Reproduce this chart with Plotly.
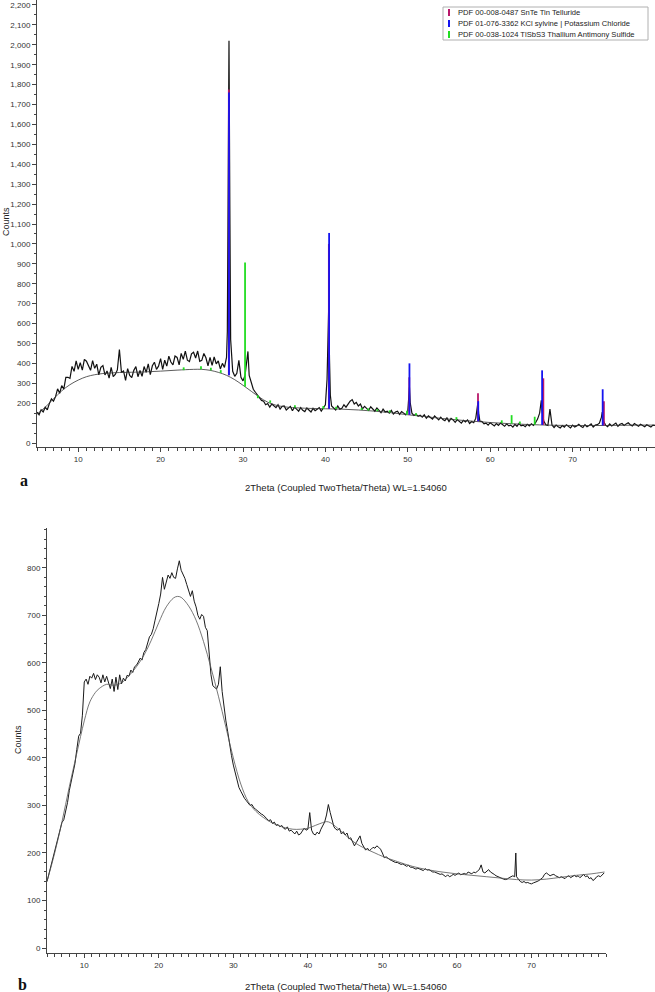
import plotly.graph_objects as go

# -------------------------
# (a) measured pattern
# -------------------------
a_two_theta = [
    5.0, 5.25, 5.5, 5.75, 6.0, 6.25, 6.5, 6.75, 7.0, 7.25, 7.5, 7.75,
    8.0, 8.25, 8.5, 8.75, 9.0, 9.25, 9.5, 9.75, 10.0, 10.25, 10.5, 10.75,
    11.0, 11.25, 11.5, 11.75, 12.0, 12.25, 12.5, 12.75, 13.0, 13.25, 13.5, 13.75,
    14.0, 14.25, 14.5, 14.75, 15.0, 15.25, 15.5, 15.75, 16.0, 16.25, 16.5, 16.75,
    17.0, 17.25, 17.5, 17.75, 18.0, 18.25, 18.5, 18.75, 19.0, 19.25, 19.5, 19.75,
    20.0, 20.25, 20.5, 20.75, 21.0, 21.25, 21.5, 21.75, 22.0, 22.25, 22.5, 22.75,
    23.0, 23.25, 23.5, 23.75, 24.0, 24.25, 24.5, 24.75, 25.0, 25.25, 25.5, 25.75,
    26.0, 26.25, 26.5, 26.75, 27.0, 27.25, 27.5, 27.75,
    28.0, 28.1, 28.2, 28.3, 28.4, 28.5, 28.75,
    29.0, 29.25, 29.5, 29.75, 30.0, 30.25, 30.5, 30.6, 30.75,
    31.0, 31.25, 31.5, 31.75, 32.0, 32.25, 32.5, 32.75, 33.0, 33.25, 33.5, 33.75,
    34.0, 34.25, 34.5, 34.75, 35.0, 35.25, 35.5, 35.75, 36.0, 36.25, 36.5, 36.75,
    37.0, 37.25, 37.5, 37.75, 38.0, 38.25, 38.5, 38.75, 39.0, 39.25, 39.5, 39.75,
    40.0, 40.2, 40.3, 40.4, 40.5, 40.6, 40.75,
    41.0, 41.25, 41.5, 41.75, 42.0, 42.25, 42.5, 42.75, 43.0, 43.25, 43.5, 43.75,
    44.0, 44.25, 44.5, 44.75, 45.0, 45.25, 45.5, 45.75, 46.0, 46.25, 46.5, 46.75,
    47.0, 47.25, 47.5, 47.75, 48.0, 48.25, 48.5, 48.75, 49.0, 49.25, 49.5, 49.75,
    50.0, 50.1, 50.2, 50.3, 50.5, 50.75,
    51.0, 51.25, 51.5, 51.75, 52.0, 52.25, 52.5, 52.75, 53.0, 53.25, 53.5, 53.75,
    54.0, 54.25, 54.5, 54.75, 55.0, 55.25, 55.5, 55.75, 56.0, 56.25, 56.5, 56.75,
    57.0, 57.25, 57.5, 57.75, 58.0, 58.25, 58.4, 58.5, 58.6, 58.75,
    59.0, 59.25, 59.5, 59.75, 60.0, 60.25, 60.5, 60.75, 61.0, 61.25, 61.5, 61.75,
    62.0, 62.25, 62.5, 62.75, 63.0, 63.25, 63.5, 63.75, 64.0, 64.25, 64.5, 64.75,
    65.0, 65.25, 65.5, 65.75, 66.0, 66.1, 66.2, 66.3, 66.5, 66.75,
    67.0, 67.25, 67.5, 67.75, 68.0, 68.25, 68.5, 68.75, 69.0, 69.25, 69.5, 69.75,
    70.0, 70.25, 70.5, 70.75, 71.0, 71.25, 71.5, 71.75, 72.0, 72.25, 72.5, 72.75,
    73.0, 73.25, 73.5, 73.6, 73.75,
    74.0, 74.25, 74.5, 74.75, 75.0, 75.25, 75.5, 75.75, 76.0, 76.25, 76.5, 76.75,
    77.0, 77.25, 77.5, 77.75, 78.0, 78.25, 78.5, 78.75, 79.0, 79.25, 79.5, 79.75, 80.0,
]
a_counts = [
    155, 142, 167, 156, 180, 167, 198, 222, 210, 233, 272, 250,
    288, 271, 330, 330, 325, 385, 360, 412, 370, 403, 366, 420,
    411, 383, 365, 414, 375, 396, 342, 380, 389, 342, 362, 326,
    380, 333, 344, 367, 470, 354, 362, 315, 374, 339, 328, 365,
    384, 333, 364, 335, 384, 355, 398, 344, 388, 406, 370, 386,
    424, 370, 416, 386, 436, 407, 392, 437, 430, 393, 450, 420,
    462, 416, 409, 448, 456, 427, 462, 410, 415, 450, 428, 388,
    430, 390, 432, 398, 412, 372, 400, 380,
    430, 560, 1100, 2020, 1200, 520, 360,
    335, 350, 415, 330, 312, 340, 420, 460, 340,
    300, 270, 255, 240, 228, 214, 210, 192, 198, 180, 196, 188,
    178, 192, 170, 184, 186, 166, 176, 184, 162, 180, 170, 160,
    178, 164, 158, 176, 166, 156, 174, 162, 170, 178, 160, 176,
    192, 320, 480, 680, 420, 240, 186,
    178, 166, 186, 170, 174, 192, 180, 198, 210, 218, 196, 204,
    186, 196, 172, 184, 176, 164, 182, 170, 160, 176, 164, 152,
    170, 156, 160, 150, 164, 146, 156, 160, 144, 158, 150, 142,
    160, 210, 280, 200, 150, 138,
    146, 134, 140, 130, 142, 124, 136, 128, 120, 136, 128, 116,
    130, 118, 112, 126, 108, 124, 116, 104, 118, 110, 100, 114,
    106, 116, 98, 108, 102, 125, 170, 200, 150, 110,
    108, 96, 100, 90, 102, 94, 86, 98, 88, 100, 92, 84,
    96, 86, 90, 80, 94, 84, 98, 86, 90, 82, 94, 86,
    96, 88, 102, 120, 150, 190, 215, 160, 110, 92,
    88, 170, 90, 78, 90, 82, 76, 88, 80, 92, 84, 76,
    90, 80, 86, 94, 84, 78, 92, 82, 88, 96, 80, 90,
    92, 100, 130, 155, 110,
    90, 82, 96, 86, 92, 100, 84, 94, 98, 88, 96, 102,
    92, 86, 98, 90, 84, 94, 88, 82, 92, 86, 80, 90, 88,
]

# (a) fitted background
a_bg_theta = [5, 6, 7, 8, 9, 10, 11, 12, 13, 14, 15, 16, 18, 20, 22, 24, 25, 26, 27, 28,
              29, 30, 31, 32, 33, 34, 35, 36, 38, 40, 42, 44, 46, 48, 50, 52, 54, 56, 58,
              60, 62, 64, 66, 68, 70, 72, 74, 76, 78, 80]
a_bg_counts = [145, 180, 222, 262, 293, 316, 333, 343, 349, 352, 354, 355, 357, 361, 366, 370, 370, 365, 355, 340,
               318, 290, 260, 230, 205, 190, 182, 178, 174, 172, 170, 166, 160, 152, 142, 133, 124, 116, 109,
               103, 98, 94, 91, 89, 88, 88, 88, 89, 90, 90]

# reference sticks: position, base, top
snte_pos = [28.28, 40.42, 50.18, 58.52, 66.45, 73.80]
snte_base = [340, 172, 142, 109, 91, 88]
snte_top = [1775, 1000, 330, 250, 325, 210]

kcl_pos = [28.30, 40.45, 50.20, 58.55, 66.30, 73.65]
kcl_base = [340, 172, 142, 109, 91, 88]
kcl_top = [1760, 1055, 400, 210, 365, 270]

tlsbs3_pos = [22.8, 24.9, 26.1, 27.3, 30.25, 31.8, 33.3, 36.3, 39.75, 41.3, 44.4, 45.2, 46.3,
              47.8, 49.9, 51.0, 55.9, 61.4, 62.6, 63.6, 65.4]
tlsbs3_base = [366, 370, 365, 352, 283, 225, 202, 178, 172, 171, 166, 163, 160,
               153, 142, 138, 117, 100, 97, 96, 92]
tlsbs3_top = [380, 385, 378, 366, 907, 240, 214, 190, 186, 182, 176, 174, 170,
              164, 162, 150, 130, 114, 140, 108, 132]

# -------------------------
# (b) measured pattern
# -------------------------
b_two_theta = [
    5.0, 5.25, 5.5, 5.75, 6.0, 6.25, 6.5, 6.75, 7.0, 7.25, 7.5, 7.75,
    8.0, 8.25, 8.5, 8.75, 9.0, 9.25, 9.5, 9.75, 10.0, 10.25, 10.5, 10.75,
    11.0, 11.25, 11.5, 11.75, 12.0, 12.25, 12.5, 12.75, 13.0, 13.25, 13.5, 13.75,
    14.0, 14.25, 14.5, 14.75, 15.0, 15.25, 15.5, 15.75, 16.0, 16.25, 16.5, 16.75,
    17.0, 17.25, 17.5, 17.75, 18.0, 18.25, 18.5, 18.75, 19.0, 19.25, 19.5, 19.75,
    20.0, 20.25, 20.5, 20.75, 21.0, 21.25, 21.5, 21.75, 22.0, 22.25, 22.5, 22.75,
    23.0, 23.25, 23.5, 23.75, 24.0, 24.25, 24.5, 24.75, 25.0, 25.25, 25.5, 25.75,
    26.0, 26.25, 26.5, 26.75, 27.0, 27.25, 27.5, 27.75, 28.0, 28.25, 28.5, 28.75,
    29.0, 29.25, 29.5, 29.75, 30.0, 30.25, 30.5, 30.75, 31.0, 31.25, 31.5, 31.75,
    32.0, 32.25, 32.5, 32.75, 33.0, 33.25, 33.5, 33.75, 34.0, 34.25, 34.5, 34.75,
    35.0, 35.25, 35.5, 35.75, 36.0, 36.25, 36.5, 36.75, 37.0, 37.25, 37.5, 37.75,
    38.0, 38.25, 38.5, 38.75, 39.0, 39.25, 39.5, 39.75, 40.0, 40.25, 40.5, 40.75,
    41.0, 41.25, 41.5, 41.75, 42.0, 42.25, 42.5, 42.75, 43.0, 43.25, 43.5, 43.75,
    44.0, 44.25, 44.5, 44.75, 45.0, 45.25, 45.5, 45.75, 46.0, 46.25, 46.5, 46.75,
    47.0, 47.25, 47.5, 47.75, 48.0, 48.25, 48.5, 48.75, 49.0, 49.25, 49.5, 49.75,
    50.0, 50.25, 50.5, 50.75, 51.0, 51.25, 51.5, 51.75, 52.0, 52.25, 52.5, 52.75,
    53.0, 53.25, 53.5, 53.75, 54.0, 54.25, 54.5, 54.75, 55.0, 55.25, 55.5, 55.75,
    56.0, 56.25, 56.5, 56.75, 57.0, 57.25, 57.5, 57.75, 58.0, 58.25, 58.5, 58.75,
    59.0, 59.25, 59.5, 59.75, 60.0, 60.25, 60.5, 60.75, 61.0, 61.25, 61.5, 61.75,
    62.0, 62.25, 62.5, 62.75, 63.0, 63.25, 63.5, 63.75, 64.0, 64.25, 64.5, 64.75,
    65.0, 65.25, 65.5, 65.75, 66.0, 66.25, 66.5, 66.75, 67.0, 67.25, 67.5, 67.75,
    67.9, 68.0, 68.25, 68.5, 68.75, 69.0, 69.25, 69.5, 69.75,
    70.0, 70.25, 70.5, 70.75, 71.0, 71.25, 71.5, 71.75, 72.0, 72.25, 72.5, 72.75,
    73.0, 73.25, 73.5, 73.75, 74.0, 74.25, 74.5, 74.75, 75.0, 75.25, 75.5, 75.75,
    76.0, 76.25, 76.5, 76.75, 77.0, 77.25, 77.5, 77.75, 78.0, 78.25, 78.5, 78.75,
    79.0, 79.25, 79.5, 79.75,
]
b_counts = [
    140, 156, 170, 186, 204, 218, 234, 248, 264, 270, 285, 306,
    332, 350, 368, 388, 418, 446, 452, 490, 560, 566, 555, 572,
    568, 578, 565, 575, 570, 558, 575, 560, 572, 556, 546, 566,
    540, 570, 544, 575, 556, 568, 562, 574, 572, 585, 580, 592,
    595, 602, 610, 606, 622, 628, 642, 655, 660, 672, 690, 705,
    725, 745, 780, 755, 772, 785, 778, 790, 780, 778, 798, 815,
    795, 788, 778, 765, 752, 740, 752, 730, 718, 700, 692, 702,
    698, 675, 668, 620, 575, 552, 548, 545, 555, 592, 540, 505,
    478, 455, 425, 405, 385, 368, 352, 338, 330, 322, 315, 310,
    306, 300, 302, 295, 292, 288, 284, 282, 280, 275, 272, 268,
    270, 262, 265, 258, 260, 255, 258, 252, 250, 255, 246, 248,
    244, 240, 246, 238, 240, 245, 252, 248, 250, 285, 248, 240,
    238, 244, 240, 250, 258, 265, 280, 302, 285, 268, 255, 250,
    248, 252, 240, 245, 238, 242, 230, 232, 225, 215, 222, 230,
    236, 220, 212, 206, 210, 205, 208, 212, 210, 215, 212, 208,
    200, 190, 192, 188, 186, 184, 182, 180, 180, 178, 176, 177,
    175, 172, 174, 170, 170, 168, 166, 168, 166, 165, 163, 167,
    164, 165, 162, 160, 160, 158, 157, 155, 156, 152, 150, 154,
    150, 152, 155, 153, 156, 158, 154, 156, 157, 155, 160, 158,
    156, 160, 158, 162, 165, 175, 160, 158, 162, 165, 160, 158,
    155, 152, 150, 148, 146, 145, 144, 145, 148, 150, 152, 150,
    200, 150, 144, 140, 138, 140, 137, 138, 136,
    135, 137, 138, 140, 142, 145, 148, 155, 158, 155, 152, 154,
    155, 152, 150, 148, 150, 148, 146, 150, 152, 148, 150, 153,
    150, 152, 148, 152, 155, 150, 152, 146, 148, 142, 145, 150,
    152, 150, 154, 158,
]

# (b) fitted background
b_bg_theta = [5, 6, 7, 8, 9, 10, 10.75, 11.5, 12, 13, 14, 15, 16, 17, 18, 19, 20, 21, 22, 22.5,
              23, 24, 25, 26, 27, 28, 29, 30, 31, 32, 33, 34, 35, 36, 37, 38, 39, 40, 41, 42,
              42.5, 43, 44, 45, 46, 47, 48, 49, 50, 52, 54, 56, 58, 60, 62, 64, 66, 68, 70,
              72, 74, 76, 78, 79.8]
b_bg_counts = [140, 198, 265, 340, 410, 478, 518, 538, 546, 555, 553, 558, 573, 592, 616, 648, 685, 718, 737, 740,
               738, 720, 690, 645, 590, 530, 465, 400, 345, 308, 288, 275, 265, 258, 253, 250, 250, 252, 258, 264,
               266, 264, 252, 238, 225, 215, 207, 200, 193, 182, 172, 165, 160, 156, 153, 150, 147, 144, 143,
               145, 149, 153, 156, 160]

# -------------------------
# labels
# -------------------------
x_title = "2Theta (Coupled TwoTheta/Theta) WL=1.54060"
a_yticks = [0, 100, 200, 300, 400, 500, 600, 700, 800, 900, 1000, 1100,
            1200, 1300, 1400, 1500, 1600, 1700, 1800, 1900, 2000, 2100, 2200]
a_yticktext = ["0", ""] + [f"{v:,}" for v in a_yticks[2:]]
b_yticks = [0, 100, 200, 300, 400, 500, 600, 700, 800]
x_ticks = [10, 20, 30, 40, 50, 60, 70]
legend_names = ["PDF 00-008-0487 SnTe Tin Telluride",
                "PDF 01-076-3362 KCl sylvine | Potassium Chloride",
                "PDF 00-038-1024 TlSbS3 Thallium Antimony Sulfide"]
stick_colors = ["#b8176a", "#1414f0", "#22dd22"]

W, H = 655, 992
FONT = "Liberation Sans, Arial, sans-serif"


def sticks(pos, base, top):
    xs, ys = [], []
    for p, b, t in zip(pos, base, top):
        xs += [p, p, None]
        ys += [b, t, None]
    return xs, ys


fig = go.Figure()

# panel a
fig.add_trace(go.Scatter(x=a_two_theta, y=a_counts, mode="lines",
                         line=dict(color="#111111", width=1.2), xaxis="x", yaxis="y"))
fig.add_trace(go.Scatter(x=a_bg_theta, y=a_bg_counts, mode="lines", line_shape="spline",
                         line=dict(color="#333333", width=0.8), xaxis="x", yaxis="y"))
for (pos, base, top), col in zip([(snte_pos, snte_base, snte_top),
                                  (kcl_pos, kcl_base, kcl_top),
                                  (tlsbs3_pos, tlsbs3_base, tlsbs3_top)], stick_colors):
    sx, sy = sticks(pos, base, top)
    fig.add_trace(go.Scatter(x=sx, y=sy, mode="lines", line=dict(color=col, width=1.8),
                             xaxis="x", yaxis="y"))

# panel b
fig.add_trace(go.Scatter(x=b_two_theta, y=b_counts, mode="lines",
                         line=dict(color="#1a1a1a", width=1), xaxis="x2", yaxis="y2"))
fig.add_trace(go.Scatter(x=b_bg_theta, y=b_bg_counts, mode="lines", line_shape="spline",
                         line=dict(color="#555555", width=0.8), xaxis="x2", yaxis="y2"))

axis_common = dict(showline=True, linecolor="#444444", linewidth=1, ticks="outside",
                   tickcolor="#444444", ticklen=4, tickwidth=1, showgrid=False, zeroline=False,
                   tickfont=dict(family=FONT, size=8, color="#333333"))

fig.update_layout(
    width=W, height=H,
    margin=dict(l=0, r=0, t=0, b=0),
    paper_bgcolor="white", plot_bgcolor="white",
    showlegend=False,
    xaxis=dict(domain=[37 / W, 1.0], range=[5, 80], anchor="y", tickvals=x_ticks,
               minor=dict(dtick=1, tick0=5, ticks="outside", ticklen=2.5, tickcolor="#444444"),
               **axis_common),
    yaxis=dict(domain=[1 - 447 / H, 1.0], range=[-20, 2225], anchor="x",
               tickvals=a_yticks, ticktext=a_yticktext,
               minor=dict(dtick=50, tick0=0, ticks="outside", ticklen=2.5, tickcolor="#444444"),
               **axis_common),
    xaxis2=dict(domain=[47 / W, 606 / W], range=[5, 80], anchor="y2", tickvals=x_ticks,
                minor=dict(dtick=1, tick0=5, ticks="outside", ticklen=2.5, tickcolor="#444444"),
                **axis_common),
    yaxis2=dict(domain=[1 - 953 / H, 1 - 528 / H], range=[-10.5, 884], anchor="x2",
                tickvals=b_yticks,
                minor=dict(dtick=20, tick0=0, ticks="outside", ticklen=2.5, tickcolor="#444444"),
                **axis_common),
)

ann_font = dict(family=FONT, size=9.5, color="#222222")
annotations = [
    dict(text="Counts", x=6 / W, y=1 - 222 / H, textangle=-90,
         font=dict(family=FONT, size=9, color="#222222")),
    dict(text="Counts", x=18 / W, y=1 - 740 / H, textangle=-90,
         font=dict(family=FONT, size=9, color="#222222")),
    dict(text=x_title, x=346 / W, y=1 - 487 / H, font=ann_font),
    dict(text=x_title, x=346 / W, y=1 - 986 / H, font=ann_font),
    dict(text="<b>a</b>", x=24 / W, y=1 - 480 / H,
         font=dict(family="Liberation Serif, Times New Roman, serif", size=16, color="#111111")),
    dict(text="<b>b</b>", x=22 / W, y=1 - 984 / H,
         font=dict(family="Liberation Serif, Times New Roman, serif", size=16, color="#111111")),
]
for i, name in enumerate(legend_names):
    annotations.append(dict(text=name, x=456 / W, y=1 - (12.5 + 11 * i) / H, xanchor="left",
                            font=dict(family=FONT, size=7.6, color="#222222")))
for a in annotations:
    a.setdefault("xref", "paper")
    a.setdefault("yref", "paper")
    a.setdefault("xanchor", "center")
    a.setdefault("yanchor", "middle")
    a.setdefault("showarrow", False)
fig.update_layout(annotations=annotations)

shapes = [dict(type="rect", xref="paper", yref="paper", x0=443 / W, x1=648 / W,
               y0=1 - 40 / H, y1=1 - 7 / H, line=dict(color="#b0b0b0", width=1),
               fillcolor="white", layer="above")]
for i, col in enumerate(stick_colors):
    shapes.append(dict(type="line", xref="paper", yref="paper", x0=449 / W, x1=449 / W,
                       y0=1 - (16 + 11 * i) / H, y1=1 - (9 + 11 * i) / H,
                       line=dict(color=col, width=2), layer="above"))
fig.update_layout(shapes=shapes)

fig.write_html("out.html", config={"displayModeBar": False},
               post_script="document.body.style.margin='0px';")
